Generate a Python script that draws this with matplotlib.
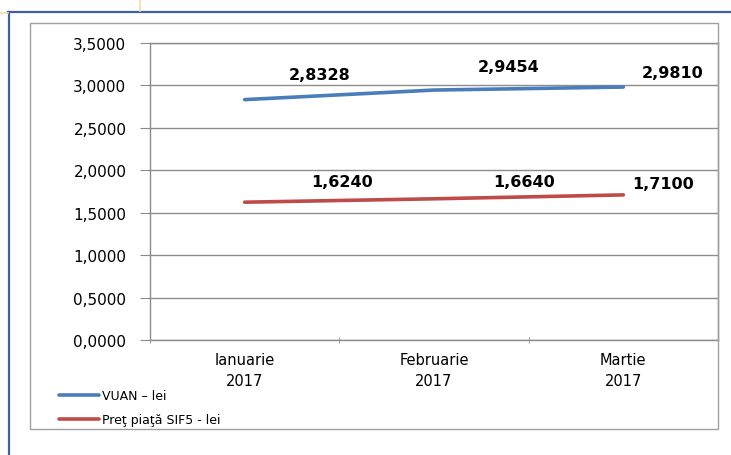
import matplotlib.pyplot as plt
from matplotlib.lines import Line2D
from matplotlib.patches import Rectangle
from matplotlib.ticker import FixedLocator, FuncFormatter

luni = ['Ianuarie\n2017', 'Februarie\n2017', 'Martie\n2017']
vuan = [2.8328, 2.9454, 2.9810]
pret = [1.6240, 1.6640, 1.7100]
yticks = [0.0, 0.5, 1.0, 1.5, 2.0, 2.5, 3.0, 3.5]

plt.rcParams['font.family'] = ['DejaVu Sans']

fig = plt.figure(figsize=(7.31, 4.56), dpi=100)

# outer decorations (page frame)
fig.add_artist(Line2D([8/731, 1], [1 - 13/456] * 2, color='#3F60A6', lw=1.6))
fig.add_artist(Line2D([9/731] * 2, [0, 1 - 13/456], color='#3F60A6', lw=1.6))
fig.add_artist(Line2D([140/731] * 2, [1, 1 - 12/456], color='#F8D9A6', lw=1.2))
fig.add_artist(Line2D([0, 8/731], [1 - 14/456] * 2, color='#F8D9A6', lw=1.2))
fig.add_artist(Rectangle((30/731, 26/456), 688/731, 406/456, transform=fig.transFigure,
                         fill=False, edgecolor='#A0A0A0', lw=1.0))

ax = fig.add_axes([150/731, 115/456, 568/731, 297/456])
x = list(range(len(luni)))
ax.plot(x, vuan, color='#4A7EBB', lw=2.6, solid_capstyle='round', label='VUAN – lei')
ax.plot(x, pret, color='#BE4B48', lw=2.6, solid_capstyle='round', label='Preţ piaţă SIF5 - lei')

ax.set_xlim(-0.5, 2.5)
ax.set_ylim(0, 3.5)
ax.set_yticks(yticks)
ax.yaxis.set_major_formatter(FuncFormatter(lambda v, p: f'{v:.4f}'.replace('.', ',')))
ax.set_xticks(x)
ax.set_xticklabels(luni, fontsize=10.5, linespacing=1.45)
ax.xaxis.set_minor_locator(FixedLocator([-0.5, 0.5, 1.5, 2.5]))
ax.tick_params(axis='x', which='major', length=0, pad=9)
ax.tick_params(axis='x', which='minor', length=5, color='#8C8C8C', direction='inout')
ax.tick_params(axis='y', length=7, color='#8C8C8C', labelsize=11, pad=10)
ax.grid(axis='y', color='#8C8C8C', lw=1.0)
ax.set_axisbelow(True)
for s in ax.spines.values():
    s.set_color('#8C8C8C')
    s.set_linewidth(1.0)

offs_v = [(75, 25), (75, 24), (49, 15)]
offs_p = [(97, 21), (90, 17), (40, 11)]
for i in x:
    ax.annotate(f'{vuan[i]:.4f}'.replace('.', ','), (i, vuan[i]), xytext=offs_v[i],
                textcoords='offset pixels', ha='center', va='center',
                fontsize=11.5, fontweight='bold')
    ax.annotate(f'{pret[i]:.4f}'.replace('.', ','), (i, pret[i]), xytext=offs_p[i],
                textcoords='offset pixels', ha='center', va='center',
                fontsize=11.5, fontweight='bold')

fig.legend(loc='lower left', bbox_to_anchor=(54/731, 24/456), frameon=False,
           fontsize=9, handlelength=3.2, handletextpad=0.25, labelspacing=0.85,
           borderaxespad=0)

fig.savefig('out.png', dpi=100)
